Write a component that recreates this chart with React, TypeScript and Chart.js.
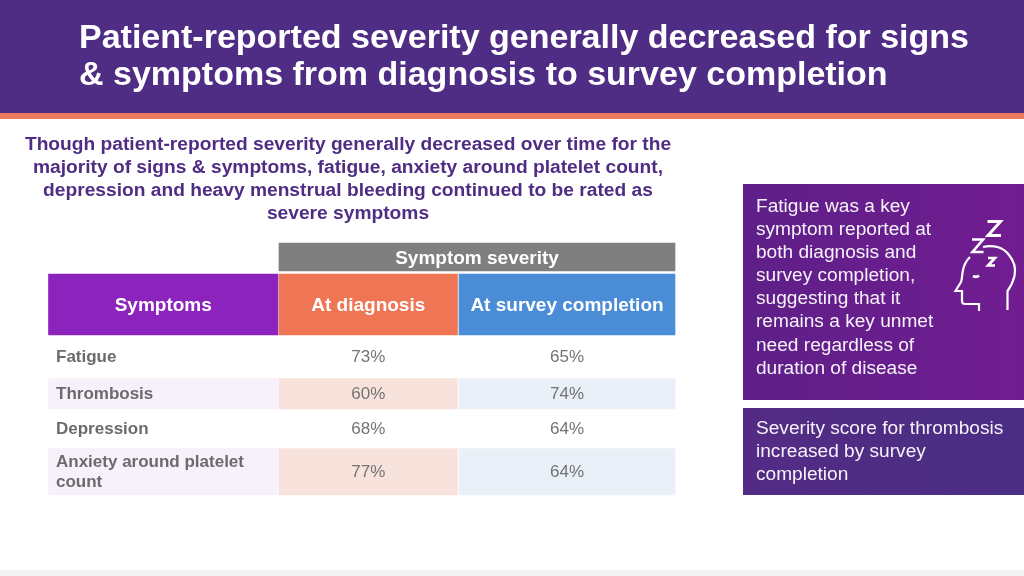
import React, { useEffect, useRef } from "react";
import { Chart, registerables } from "chart.js";

Chart.register(...registerables);

const titleLines = [
  "Patient-reported severity generally decreased for signs",
  "& symptoms from diagnosis to survey completion",
];
const subtitleLines = [
  "Though patient-reported severity generally decreased over time for the",
  "majority of signs & symptoms, fatigue, anxiety around platelet count,",
  "depression and heavy menstrual bleeding continued to be rated as",
  "severe symptoms",
];
const fatigueNote = [
  "Fatigue was a key",
  "symptom reported at",
  "both diagnosis and",
  "survey completion,",
  "suggesting that it",
  "remains a key unmet",
  "need regardless of",
  "duration of disease",
];
const thrombosisNote = ["Severity score for thrombosis", "increased by survey", "completion"];

const spanHeader = "Symptom severity";
const columnHeaders = ["Symptoms", "At diagnosis", "At survey completion"];
const symptoms = [["Fatigue"], ["Thrombosis"], ["Depression"], ["Anxiety around platelet", "count"]];
const atDiagnosis = [73, 60, 68, 77];
const atSurveyCompletion = [65, 74, 64, 64];

// Table geometry, in the units of the two linear scales (one unit = one page pixel).
const columnSpans: [number, number][] = [[48.5, 278], [279, 457.5], [459, 675]];
const spanHeaderRow: [number, number] = [243, 271];
const headerRow: [number, number] = [274, 335];
const bodyRows: [number, number][] = [[335, 378], [378, 409], [409, 448], [448, 495]];
const headerColors = ["#8d23bd", "#ee7654", "#4a8cd5"];
const tintColors = ["#f7f1fb", "#f8e2dc", "#e9f0f8"];

const FONT = '"Liberation Sans", Arial, sans-serif';

const rowDataset = (row: [number, number], spans: [number, number][], colors: string[]) => ({
  data: spans.map((s) => ({ x: s, y: (row[0] + row[1]) / 2 })),
  backgroundColor: colors,
  barThickness: row[1] - row[0],
  grouped: false,
  borderWidth: 0,
});

const tablePlugin = {
  id: "tableText",
  afterDatasetsDraw(chart: any) {
    const { ctx, scales } = chart;
    const X = (v: number) => scales.x.getPixelForValue(v);
    const Y = (v: number) => scales.y.getPixelForValue(v);
    const mid = (s: [number, number]) => (s[0] + s[1]) / 2;
    ctx.save();
    ctx.textBaseline = "middle";
    ctx.textAlign = "center";
    ctx.fillStyle = "#ffffff";
    ctx.font = `bold 19px ${FONT}`;
    ctx.fillText(spanHeader, X((columnSpans[1][0] + columnSpans[2][1]) / 2), Y(mid(spanHeaderRow)) + 2);
    columnHeaders.forEach((h, i) => ctx.fillText(h, X(mid(columnSpans[i])), Y(mid(headerRow)) + 1));
    bodyRows.forEach((row, r) => {
      ctx.textAlign = "left";
      ctx.fillStyle = "#6b6b6b";
      ctx.font = `bold 17px ${FONT}`;
      const lines = symptoms[r];
      const first = mid(row) - ((lines.length - 1) * 20) / 2;
      lines.forEach((l, k) => ctx.fillText(l, X(56), Y(first + k * 20) + 1));
      ctx.textAlign = "center";
      ctx.fillStyle = "#737373";
      ctx.font = `17px ${FONT}`;
      ctx.fillText(`${atDiagnosis[r]}%`, X(mid(columnSpans[1])), Y(mid(row)) + 1);
      ctx.fillText(`${atSurveyCompletion[r]}%`, X(mid(columnSpans[2])), Y(mid(row)) + 1);
    });
    ctx.restore();
  },
};

const abs = (left: number, top: number, width: number, height: number, extra: React.CSSProperties = {}): React.CSSProperties => ({
  position: "absolute",
  left,
  top,
  width,
  height,
  ...extra,
});

const TextBlock = ({ lines, style }: { lines: string[]; style: React.CSSProperties }) => (
  <div style={{ position: "absolute", whiteSpace: "nowrap", fontFamily: FONT, ...style }}>
    {lines.map((l) => (
      <div key={l}>{l}</div>
    ))}
  </div>
);

const SleepIcon = () => (
  <svg style={abs(950, 215, 70, 100)} viewBox="950 215 70 100" fill="none" stroke="#fff" strokeWidth="2.2">
    <path d="M987.500 221.500h13l-12.500 14h13" strokeWidth="3" />
    <path d="M972 239.500h11l-10.500 12.500h11" strokeWidth="2.6" />
    <path d="M988 258h7l-7 7.500h7" strokeWidth="2.6" />
    <path d="M983 247c10-2.500 20 0 26 8 5 6 7 14 5.500 21-1.500 6-4 11-7 15v19" />
    <path d="M970 257c-4 4-6 8-7 13-1 5-1 10-2 12l-5.500 9h6.500v10c0 2 1.500 3 3 3h14v7" />
    <path d="M973 276c2 1 4.500 1 6-.5" strokeWidth="2.6" />
  </svg>
);

export default function App() {
  const ref = useRef<HTMLCanvasElement>(null);

  useEffect(() => {
    const spanRowSpans: [number, number][] = [[columnSpans[1][0], columnSpans[2][1]]];
    const datasets = [
      rowDataset(spanHeaderRow, spanRowSpans, ["#7f7f7f"]),
      rowDataset(headerRow, columnSpans, headerColors),
      ...bodyRows.map((row, r) =>
        rowDataset(row, columnSpans, r % 2 === 1 ? tintColors : ["#ffffff", "#ffffff", "#ffffff"])
      ),
    ];
    const chart = new Chart(ref.current as HTMLCanvasElement, {
      type: "bar",
      data: { datasets: datasets as any },
      plugins: [tablePlugin],
      options: {
        indexAxis: "y",
        animation: false,
        responsive: false,
        layout: { padding: 0 },
        plugins: { legend: { display: false }, tooltip: { enabled: false }, title: { display: false } },
        scales: {
          x: { type: "linear", min: 0, max: 1024, display: false },
          y: { type: "linear", min: 0, max: 576, reverse: true, display: false, offset: false },
        },
      } as any,
    });
    return () => chart.destroy();
  }, []);

  return (
    <div style={{ position: "fixed", left: 0, top: 0, width: 1024, height: 576, background: "#ffffff", overflow: "hidden" }}>
      <div style={abs(0, 0, 1024, 113, { background: "#4f2d84" })} />
      <div style={abs(0, 113, 1024, 6, { background: "#ec7a5c" })} />
      <div style={abs(0, 570, 1024, 6, { background: "#f4f4f4" })} />
      <div style={abs(743, 184, 281, 216, { background: "linear-gradient(90deg,#5e1f88,#711d91)" })} />
      <div style={abs(743, 408, 281, 87, { background: "linear-gradient(90deg,#532b85,#4a2e84)" })} />
      <canvas ref={ref} width={1024} height={576} style={{ position: "absolute", left: 0, top: 0, width: 1024, height: 576 }} />
      <TextBlock
        lines={titleLines}
        style={{ left: 79, top: 18, fontSize: 34, lineHeight: "37px", fontWeight: 700, color: "#ffffff" }}
      />
      <TextBlock
        lines={subtitleLines}
        style={{ left: 0, width: 696, top: 132, textAlign: "center", fontSize: 19.2, lineHeight: "23px", fontWeight: 700, color: "#4f2d84" }}
      />
      <TextBlock lines={fatigueNote} style={{ left: 756, top: 194, fontSize: 19.1, lineHeight: "23.100px", color: "#f7f2f9" }} />
      <TextBlock lines={thrombosisNote} style={{ left: 756, top: 416, fontSize: 19.1, lineHeight: "23px", color: "#f7f2f9" }} />
      <SleepIcon />
    </div>
  );
}
